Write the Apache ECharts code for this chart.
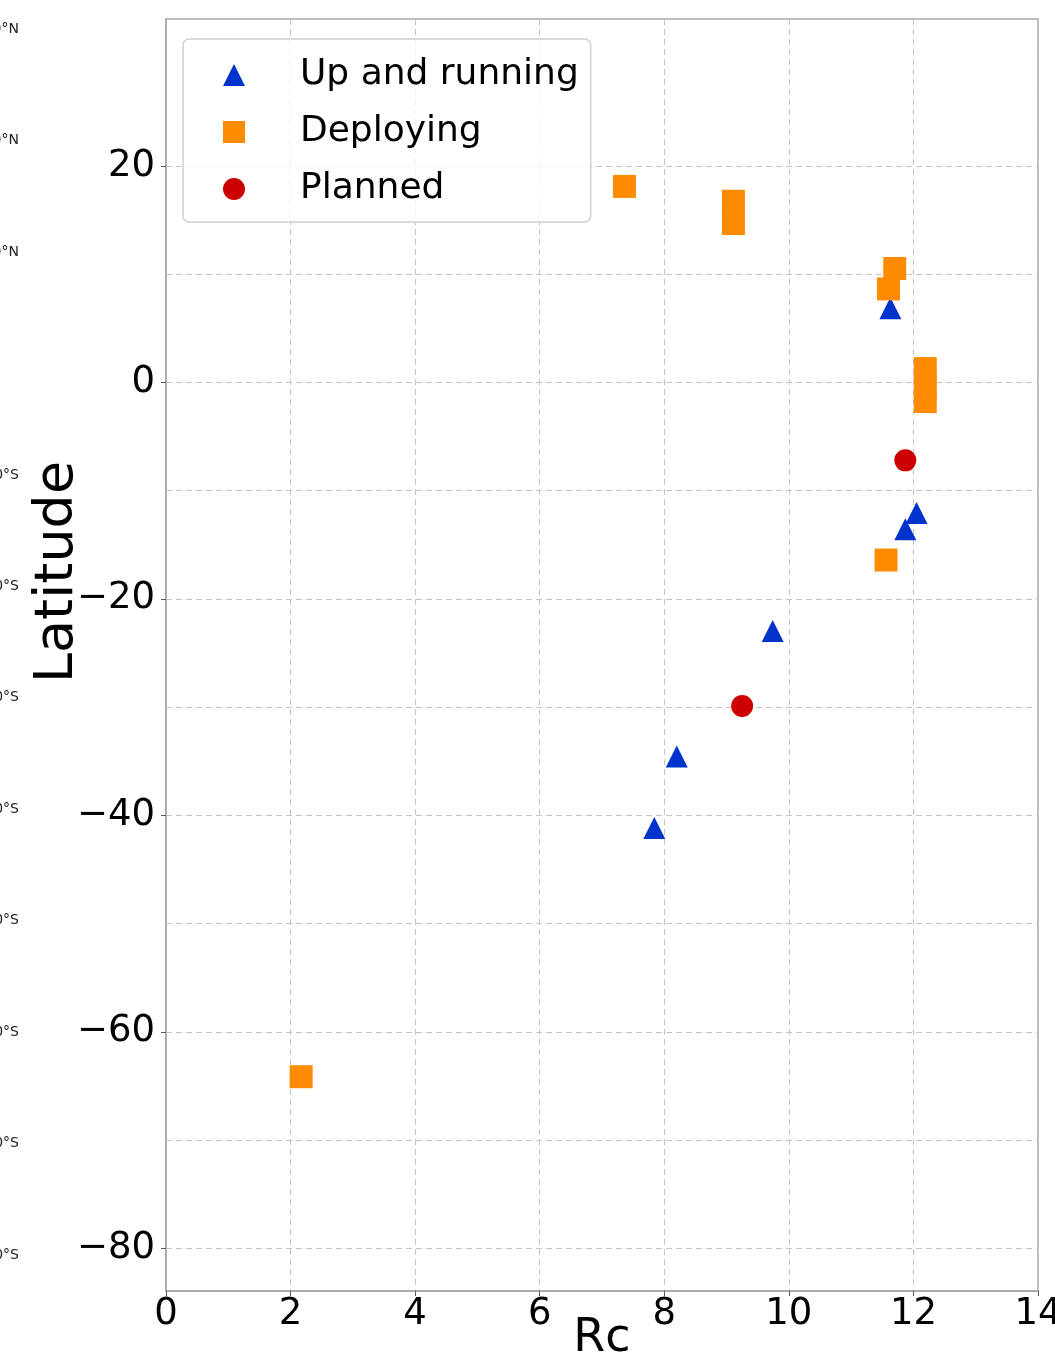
<!DOCTYPE html>
<html>
<head>
<meta charset="utf-8">
<script src="https://cdn.jsdelivr.net/npm/echarts@6/dist/echarts.min.js"></script>
<style>
html,body{margin:0;padding:0;background:#fff;}
#chart{width:1055px;height:1355px;}
</style>
</head>
<body>
<div id="chart"></div>
<script>
// ---- data ----
var seriesNames = ['Up and running', 'Deploying', 'Planned'];
var upX = [11.63, 12.05, 11.87, 9.74, 8.20, 7.84];
var upY = [6.86, -12.07, -13.56, -22.96, -34.56, -41.17];
var depX = [7.36, 9.11, 9.11, 11.70, 11.60, 12.19, 12.19, 12.19, 11.56, 2.17];
var depY = [18.11, 16.74, 14.68, 10.53, 8.64, 1.28, -0.24, -1.76, -16.41, -64.15];
var planX = [11.87, 9.25];
var planY = [-7.20, -29.89];
var yTickValues = [20, 0, -20, -40, -60, -80];
var yGridValues = [20, 10, 0, -10, -20, -30, -40, -50, -60, -70, -80];
var latTickValues = [30, 20, 10, -10, -20, -30, -40, -50, -60, -70, -80];

function pairs(xs, ys) { return xs.map(function (x, i) { return [x, ys[i]]; }); }
function fmtNum(v) { return v < 0 ? '\u2212' + Math.abs(v) : String(v); }
function fmtLat(v) { return v > 0 ? v + '\u00b0N' : (v < 0 ? Math.abs(v) + '\u00b0S' : '0\u00b0'); }

var FONT = 'DejaVu Sans';
var gridLine = { color: '#c4c4c4', width: 1, type: [6, 4] };

var chart = echarts.init(document.getElementById('chart'), null, { renderer: 'canvas' });
chart.setOption({
  animation: false,
  backgroundColor: '#ffffff',
  grid: {
    left: 166, right: 17, top: 19, bottom: 64,
    containLabel: false, outerBoundsMode: 'none',
    show: true, borderColor: '#a6a6a6', borderWidth: 1.5, backgroundColor: 'transparent'
  },
  legend: {
    data: seriesNames,
    orient: 'vertical',
    left: 183, top: 39,
    padding: [14, 12, 11, 40],
    itemGap: 13,
    itemWidth: 22, itemHeight: 22,
    backgroundColor: 'rgba(255,255,255,0.8)',
    borderColor: '#d0d0d0', borderWidth: 1.5, borderRadius: 6,
    textStyle: { fontFamily: FONT, fontSize: 36, lineHeight: 44, color: '#000', padding: [0, 0, 0, 50] }
  },
  xAxis: {
    type: 'value', min: 0, max: 14, interval: 2,
    name: 'Rc', nameLocation: 'middle', nameGap: 25, nameMoveOverlap: false,
    nameTextStyle: { fontFamily: FONT, fontSize: 46, color: '#000' },
    axisLine: { show: true, onZero: false, lineStyle: { color: '#a6a6a6', width: 1.5 } },
    axisTick: { show: true, length: 5, lineStyle: { color: '#555', width: 1 } },
    axisLabel: { fontFamily: FONT, fontSize: 37, color: '#000', margin: 5, formatter: fmtNum },
    splitLine: { show: true, lineStyle: gridLine }
  },
  yAxis: [{
    type: 'value', min: -83.95, max: 33.58,
    name: 'Latitude', nameLocation: 'middle', nameGap: 81, nameMoveOverlap: false,
    nameTextStyle: { fontFamily: FONT, fontSize: 54, color: '#000', padding: [0, 0, 0, 166] },
    axisLine: { show: true, onZero: false, lineStyle: { color: '#a6a6a6', width: 1.5 } },
    axisTick: { show: true, length: 5, customValues: yTickValues, lineStyle: { color: '#555', width: 1 } },
    axisLabel: { fontFamily: FONT, fontSize: 37, color: '#000', margin: 11, customValues: yTickValues, formatter: fmtNum },
    splitLine: { show: false }
  }, {
    type: 'value', min: -83.23, max: 30.92, position: 'left', offset: 147,
    axisLine: { show: false, onZero: false }, axisTick: { show: false }, splitLine: { show: false },
    axisLabel: { fontFamily: FONT, fontSize: 14, color: '#222', margin: 0, customValues: latTickValues, formatter: fmtLat }
  }],
  series: [{
    name: 'gridlines', type: 'scatter', data: [], silent: true, z: 1,
    markLine: {
      silent: true, z: 1, symbol: ['none', 'none'], label: { show: false },
      lineStyle: gridLine, animation: false,
      data: yGridValues.map(function (v) { return { yAxis: v }; })
    }
  }, {
    name: seriesNames[0], type: 'scatter', symbol: 'triangle', symbolSize: [22, 22],
    itemStyle: { color: '#0033cc', opacity: 1 }, data: pairs(upX, upY), z: 3
  }, {
    name: seriesNames[1], type: 'scatter', symbol: 'rect', symbolSize: 23,
    itemStyle: { color: '#ff8c00', opacity: 1 }, data: pairs(depX, depY), z: 3
  }, {
    name: seriesNames[2], type: 'scatter', symbol: 'circle', symbolSize: 22,
    itemStyle: { color: '#cc0000', opacity: 1 }, data: pairs(planX, planY), z: 3
  }]
});
</script>
</body>
</html>
